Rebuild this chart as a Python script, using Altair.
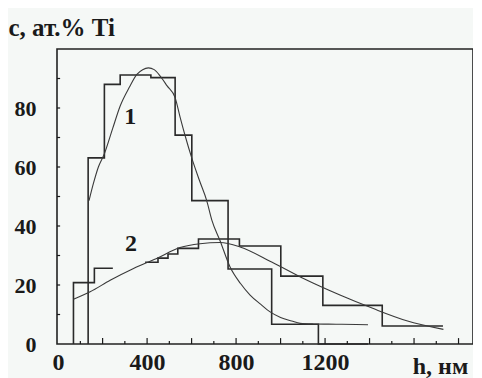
import altair as alt
import pandas as pd

# Histogram 1 (step outline): left edges and values
h1_edges = [135, 135, 208, 279, 417, 526, 601, 764, 960, 1170, 1393]
h1_vals = [0, 63.1, 88.0, 91.2, 90.3, 70.8, 48.6, 25.4, 6.7, 0, 0]

# Histogram 2 (two visible pieces)
h2a_edges = [69, 69, 163, 246]
h2a_vals = [0, 20.8, 25.7, 25.7]
h2b_edges = [391, 449, 494, 538, 631, 815, 1001, 1190, 1457, 1730]
h2b_vals = [27.7, 29.1, 30.5, 32.4, 35.6, 33.2, 23.0, 13.1, 6.1, 6.1]

# Smooth curve 1
c1_h = [139, 159, 181, 208, 245, 279, 320, 354, 380, 406, 432, 458, 490, 526,
        548, 571, 601, 635, 668, 691, 728, 773, 820, 863, 910, 953, 1000, 1050,
        1088, 1150, 1250, 1340, 1393]
c1_v = [48.6, 54.5, 60.0, 64.5, 73.0, 80.7, 87.0, 91.4, 93.0, 93.6, 93.0, 90.9,
        87.5, 83.5, 77.0, 70.6, 63.0, 55.5, 48.6, 42.0, 35.0, 26.1, 20.5, 16.6,
        13.5, 10.9, 9.0, 7.8, 7.0, 6.8, 6.7, 6.6, 6.5]

# Smooth curve 2
c2_h = [69, 144, 234, 339, 443, 548, 638, 728, 818, 960, 1103, 1267, 1417, 1567, 1732]
c2_v = [15.2, 17.7, 21.6, 25.6, 29.0, 32.7, 34.0, 34.4, 32.9, 27.8, 22.2, 16.6, 12.0, 7.9, 4.96]

# Axis ticks / labels
x_labels = [0, 400, 800, 1200]
y_labels = [0, 20, 40, 60, 80]
x_major_ticks = [200, 400, 600, 800, 1000, 1200, 1400, 1600, 1800]
x_minor_ticks = [100, 300, 500, 700, 900, 1100, 1300, 1500, 1700]
y_ticks = [10, 20, 30, 40, 50, 60, 70, 80, 90]

# Curve labels
lab_text = ["1", "2"]
lab_h = [324, 328]
lab_c = [77, 33.9]

FONT = "Liberation Serif"
INK = "#1a1a1a"

hist_rows = []
for i, (h, v) in enumerate(zip(h1_edges, h1_vals)):
    hist_rows.append({"h": h, "c": v, "s": "h1", "o": i})
for i, (h, v) in enumerate(zip(h2a_edges, h2a_vals)):
    hist_rows.append({"h": h, "c": v, "s": "h2a", "o": i})
for i, (h, v) in enumerate(zip(h2b_edges, h2b_vals)):
    hist_rows.append({"h": h, "c": v, "s": "h2b", "o": i})
hist_df = pd.DataFrame(hist_rows)

curve_df = pd.concat([
    pd.DataFrame({"h": c1_h, "c": c1_v, "s": "c1"}),
    pd.DataFrame({"h": c2_h, "c": c2_v, "s": "c2"}),
])

xscale = alt.Scale(domain=[-5, 1865], nice=False, zero=False)
yscale = alt.Scale(domain=[0, 100], nice=False, zero=False)

x_enc = alt.X("h:Q", scale=xscale, axis=alt.Axis(
    values=x_labels, format="d", title="h, нм", tickSize=0, domain=False, grid=False,
    labelFont=FONT, labelFontSize=24, labelFontWeight="bold", labelColor=INK,
    labelPadding=6, labelFlush=False,
    titleFont=FONT, titleFontSize=24, titleFontWeight="bold", titleColor=INK,
    titleX=383, titleY=22, titleAlign="center", titleBaseline="middle"))
y_enc = alt.Y("c:Q", scale=yscale, axis=alt.Axis(
    values=y_labels, format="d", title="c, ат.% Ti", tickSize=0, domain=False, grid=False,
    labelFont=FONT, labelFontSize=22, labelFontWeight="bold", labelColor=INK,
    labelPadding=21,
    titleFont=FONT, titleFontSize=25, titleFontWeight="bold", titleColor=INK,
    titleAngle=0, titleX=-49, titleY=-22, titleAlign="left", titleBaseline="middle"))

hist = alt.Chart(hist_df).mark_line(
    interpolate="step-after", color="#2a2a2a", strokeWidth=1.6
).encode(x=x_enc, y=y_enc, detail="s:N", order="o:Q")

curves = alt.Chart(curve_df).mark_line(
    interpolate="monotone", color="#3a3a3a", strokeWidth=1.1
).encode(x=x_enc, y=y_enc, detail="s:N")

xmaj = alt.Chart(pd.DataFrame({"h": x_major_ticks})).mark_rule(
    color=INK, strokeWidth=1.2).encode(x=x_enc, y=alt.datum(0), y2=alt.datum(2.0))
xmin = alt.Chart(pd.DataFrame({"h": x_minor_ticks})).mark_rule(
    color=INK, strokeWidth=1.2).encode(x=x_enc, y=alt.datum(0), y2=alt.datum(1.0))
ytk = alt.Chart(pd.DataFrame({"c": y_ticks})).mark_rule(
    color=INK, strokeWidth=1.2).encode(y=y_enc, x=alt.datum(-5), x2=alt.datum(9))

labels = alt.Chart(pd.DataFrame({"h": lab_h, "c": lab_c, "t": lab_text})).mark_text(
    font=FONT, fontSize=24, fontWeight="bold", color=INK
).encode(x=x_enc, y=y_enc, text="t:N")

chart = alt.layer(hist, curves, xmaj, xmin, ytk, labels).properties(
    width=416, height=295,
    autosize=alt.AutoSizeParams(type="none"),
    padding={"left": 49, "top": 41, "right": 0, "bottom": 34},
    background="#f5f8f6",
).configure_view(
    stroke="#222222", strokeWidth=1.6, fill="#f5f8f6"
)

chart.save("out.html", embed_options={"renderer": "svg", "actions": False})
